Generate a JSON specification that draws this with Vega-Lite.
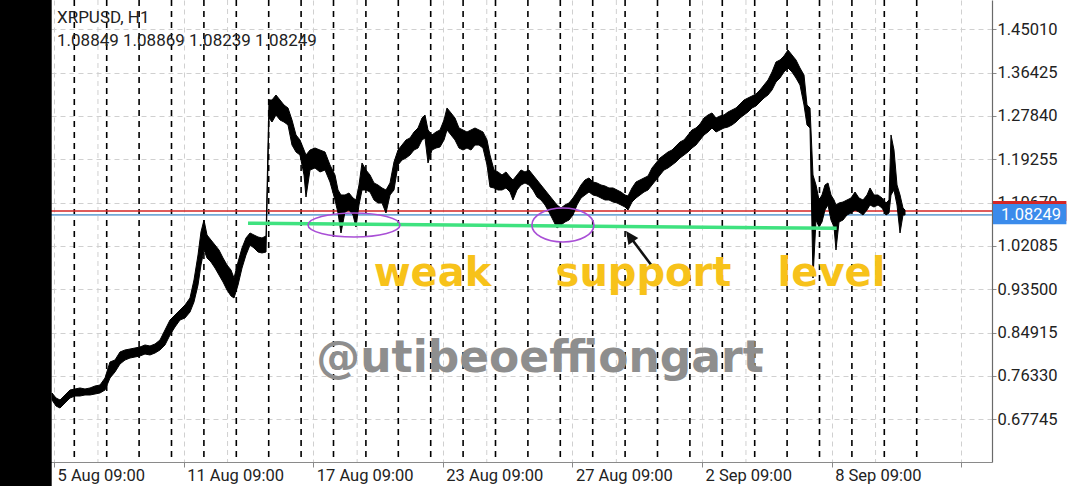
{
  "$schema": "https://vega.github.io/schema/vega-lite/v6.json",
  "width": 992,
  "height": 462,
  "autosize": {"type": "none"},
  "padding": {"left": 0, "top": 0, "right": 88, "bottom": 24},
  "background": "white",
  "config": {"view": {"stroke": null}},
  "datasets": {
    "px": [
      {"d":0.312,"p":0.7295,"p2":0.7156},{"d":0.435,"p":0.7196,"p2":0.7037},{"d":0.559,"p":0.7156,"p2":0.6997},{"d":0.713,"p":0.7255,"p2":0.7097},{"d":0.867,"p":0.7354,"p2":0.7196},{"d":1.022,"p":0.7374,"p2":0.7235},{"d":1.176,"p":0.7394,"p2":0.7235},{"d":1.330,"p":0.7374,"p2":0.7255},{"d":1.485,"p":0.7394,"p2":0.7255},{"d":1.639,"p":0.7433,"p2":0.7275},{"d":1.793,"p":0.7453,"p2":0.7295},{"d":1.948,"p":0.7592,"p2":0.7354},{"d":2.102,"p":0.7909,"p2":0.7592},{"d":2.256,"p":0.7948,"p2":0.7711},{"d":2.410,"p":0.8107,"p2":0.7869},{"d":2.565,"p":0.8147,"p2":0.7948},{"d":2.719,"p":0.8166,"p2":0.7988},{"d":2.873,"p":0.8186,"p2":0.8008},{"d":3.028,"p":0.8206,"p2":0.8028},{"d":3.182,"p":0.8246,"p2":0.8067},{"d":3.336,"p":0.8226,"p2":0.8048},{"d":3.491,"p":0.8265,"p2":0.8087},{"d":3.645,"p":0.8345,"p2":0.8147},{"d":3.799,"p":0.8543,"p2":0.8246},{"d":3.954,"p":0.8741,"p2":0.8444},{"d":4.108,"p":0.8840,"p2":0.8602},{"d":4.262,"p":0.8939,"p2":0.8741},{"d":4.417,"p":0.9038,"p2":0.8781},{"d":4.571,"p":0.9177,"p2":0.8899},{"d":4.694,"p":0.9534,"p2":0.9098},{"d":4.818,"p":1.0029,"p2":0.9434},{"d":4.910,"p":1.0485,"p2":0.9831},{"d":5.003,"p":1.0722,"p2":1.0128},{"d":5.096,"p":1.0425,"p2":0.9970},{"d":5.219,"p":1.0326,"p2":0.9890},{"d":5.343,"p":1.0227,"p2":0.9771},{"d":5.466,"p":1.0128,"p2":0.9633},{"d":5.590,"p":0.9970,"p2":0.9494},{"d":5.713,"p":0.9831,"p2":0.9335},{"d":5.836,"p":0.9732,"p2":0.9217},{"d":5.929,"p":0.9573,"p2":0.9177},{"d":6.053,"p":0.9890,"p2":0.9434},{"d":6.176,"p":1.0168,"p2":0.9771},{"d":6.299,"p":1.0366,"p2":1.0029},{"d":6.423,"p":1.0465,"p2":1.0227},{"d":6.546,"p":1.0425,"p2":1.0168},{"d":6.670,"p":1.0386,"p2":1.0088},{"d":6.793,"p":1.0366,"p2":1.0069},{"d":6.917,"p":1.0405,"p2":1.0088},
      {"d":7.009,"p":1.3100,"p2":1.2743},{"d":7.102,"p":1.3100,"p2":1.2664},{"d":7.225,"p":1.3199,"p2":1.2803},{"d":7.349,"p":1.3100,"p2":1.2704},{"d":7.472,"p":1.3001,"p2":1.2664},{"d":7.596,"p":1.2942,"p2":1.2605},{"d":7.719,"p":1.2704,"p2":1.2208},{"d":7.843,"p":1.2407,"p2":1.2070},{"d":7.966,"p":1.2308,"p2":1.2010},{"d":8.090,"p":1.2109,"p2":1.1614},{"d":8.151,"p":1.2010,"p2":1.1178},{"d":8.275,"p":1.2109,"p2":1.1713},{"d":8.429,"p":1.2149,"p2":1.1753},{"d":8.583,"p":1.2109,"p2":1.1674},{"d":8.738,"p":1.2070,"p2":1.1713},{"d":8.892,"p":1.1812,"p2":1.1475},{"d":9.046,"p":1.1614,"p2":1.1119},{"d":9.139,"p":1.1317,"p2":1.0861},{"d":9.231,"p":1.1218,"p2":1.0465},{"d":9.355,"p":1.1218,"p2":1.0881},{"d":9.478,"p":1.1257,"p2":1.0921},{"d":9.602,"p":1.1158,"p2":1.0822},{"d":9.694,"p":1.1119,"p2":1.0584},{"d":9.787,"p":1.1416,"p2":1.1020},{"d":9.880,"p":1.1852,"p2":1.1317},{"d":10.003,"p":1.1713,"p2":1.1317},{"d":10.127,"p":1.1614,"p2":1.1277},{"d":10.250,"p":1.1456,"p2":1.1119},{"d":10.373,"p":1.1416,"p2":1.1059},{"d":10.497,"p":1.1357,"p2":1.1059},{"d":10.620,"p":1.1317,"p2":1.0861},{"d":10.744,"p":1.1456,"p2":1.1218},{"d":10.867,"p":1.1872,"p2":1.1317},{"d":10.991,"p":1.2109,"p2":1.1812},{"d":11.114,"p":1.2208,"p2":1.1911},{"d":11.238,"p":1.2308,"p2":1.1951},{"d":11.361,"p":1.2347,"p2":1.2010},{"d":11.485,"p":1.2466,"p2":1.2109},{"d":11.608,"p":1.2545,"p2":1.2149},{"d":11.731,"p":1.2743,"p2":1.2308},{"d":11.824,"p":1.2803,"p2":1.2347},{"d":11.917,"p":1.2506,"p2":1.1852},{"d":12.040,"p":1.2407,"p2":1.2109},{"d":12.164,"p":1.2466,"p2":1.2149},{"d":12.287,"p":1.2506,"p2":1.2169},{"d":12.411,"p":1.2704,"p2":1.2308},{"d":12.503,"p":1.2942,"p2":1.2506},{"d":12.627,"p":1.2843,"p2":1.2407},{"d":12.750,"p":1.2743,"p2":1.2308},{"d":12.873,"p":1.2545,"p2":1.2149},{"d":12.997,"p":1.2506,"p2":1.2109},{"d":13.120,"p":1.2466,"p2":1.2149},{"d":13.244,"p":1.2506,"p2":1.2109},{"d":13.367,"p":1.2545,"p2":1.2208},{"d":13.491,"p":1.2506,"p2":1.2208},{"d":13.614,"p":1.2466,"p2":1.2149},{"d":13.738,"p":1.2308,"p2":1.1812},{"d":13.830,"p":1.2010,"p2":1.1376},{"d":13.954,"p":1.1713,"p2":1.1357},{"d":14.077,"p":1.1674,"p2":1.1317},{"d":14.201,"p":1.1614,"p2":1.1317},{"d":14.324,"p":1.1674,"p2":1.1357},{"d":14.448,"p":1.1575,"p2":1.1277},{"d":14.540,"p":1.1515,"p2":1.1119},{"d":14.664,"p":1.1614,"p2":1.1317},{"d":14.787,"p":1.1713,"p2":1.1416},{"d":14.910,"p":1.1674,"p2":1.1456},{"d":15.034,"p":1.1713,"p2":1.1416},{"d":15.157,"p":1.1614,"p2":1.1317},{"d":15.281,"p":1.1515,"p2":1.1178},{"d":15.404,"p":1.1416,"p2":1.1119},{"d":15.528,"p":1.1317,"p2":1.1020},{"d":15.651,"p":1.1218,"p2":1.0881},{"d":15.775,"p":1.1119,"p2":1.0722},{"d":15.898,"p":1.1020,"p2":1.0564},{"d":16.022,"p":1.0960,"p2":1.0623},{"d":16.145,"p":1.1020,"p2":1.0683},{"d":16.269,"p":1.1059,"p2":1.0722},{"d":16.392,"p":1.1158,"p2":1.0822},{"d":16.515,"p":1.1277,"p2":1.1020},{"d":16.639,"p":1.1416,"p2":1.1158},{"d":16.762,"p":1.1515,"p2":1.1218},{"d":16.886,"p":1.1555,"p2":1.1277},{"d":17.009,"p":1.1475,"p2":1.1218},{"d":17.133,"p":1.1456,"p2":1.1198},{"d":17.256,"p":1.1416,"p2":1.1158},{"d":17.380,"p":1.1396,"p2":1.1119},{"d":17.503,"p":1.1357,"p2":1.1119},{"d":17.627,"p":1.1357,"p2":1.1079},{"d":17.750,"p":1.1317,"p2":1.1059},{"d":17.873,"p":1.1277,"p2":1.1020},{"d":17.997,"p":1.1218,"p2":1.0980},{"d":18.090,"p":1.1198,"p2":1.0921},{"d":18.213,"p":1.1357,"p2":1.1079},{"d":18.336,"p":1.1475,"p2":1.1158},{"d":18.460,"p":1.1515,"p2":1.1218},{"d":18.583,"p":1.1555,"p2":1.1277},{"d":18.707,"p":1.1594,"p2":1.1317},{"d":18.830,"p":1.1753,"p2":1.1416},{"d":18.954,"p":1.1852,"p2":1.1515},{"d":19.077,"p":1.1951,"p2":1.1614},{"d":19.201,"p":1.2010,"p2":1.1713},{"d":19.324,"p":1.2070,"p2":1.1753},{"d":19.448,"p":1.2109,"p2":1.1812},{"d":19.571,"p":1.2189,"p2":1.1872},{"d":19.694,"p":1.2268,"p2":1.1951},{"d":19.818,"p":1.2308,"p2":1.2010},{"d":19.941,"p":1.2407,"p2":1.2070},{"d":20.065,"p":1.2506,"p2":1.2149},{"d":20.188,"p":1.2545,"p2":1.2208},{"d":20.312,"p":1.2625,"p2":1.2308},{"d":20.435,"p":1.2743,"p2":1.2407},{"d":20.559,"p":1.2803,"p2":1.2466},{"d":20.682,"p":1.2843,"p2":1.2545},{"d":20.806,"p":1.2743,"p2":1.2466},{"d":20.929,"p":1.2783,"p2":1.2506},{"d":21.052,"p":1.2803,"p2":1.2545},{"d":21.176,"p":1.2862,"p2":1.2565},{"d":21.299,"p":1.2902,"p2":1.2605},{"d":21.423,"p":1.2942,"p2":1.2664},{"d":21.546,"p":1.3021,"p2":1.2743},{"d":21.670,"p":1.3100,"p2":1.2803},{"d":21.793,"p":1.3140,"p2":1.2862},{"d":21.917,"p":1.3179,"p2":1.2942},{"d":22.040,"p":1.3219,"p2":1.2981},{"d":22.164,"p":1.3298,"p2":1.3061},{"d":22.287,"p":1.3397,"p2":1.3140},{"d":22.410,"p":1.3496,"p2":1.3199},{"d":22.534,"p":1.3655,"p2":1.3298},{"d":22.657,"p":1.3853,"p2":1.3457},{"d":22.781,"p":1.3893,"p2":1.3536},{"d":22.904,"p":1.3972,"p2":1.3655},{"d":23.028,"p":1.4091,"p2":1.3734},{"d":23.151,"p":1.3992,"p2":1.3655},{"d":23.275,"p":1.3893,"p2":1.3536},{"d":23.398,"p":1.3734,"p2":1.3397},{"d":23.522,"p":1.3595,"p2":1.3001},{"d":23.614,"p":1.3001,"p2":1.2605},{"d":23.707,"p":1.2942,"p2":1.2545},{"d":23.799,"p":1.1614,"p2":0.9573},{"d":23.892,"p":1.1416,"p2":1.0722},{"d":23.985,"p":1.1119,"p2":1.0584},{"d":24.077,"p":1.1218,"p2":1.0683},{"d":24.170,"p":1.1416,"p2":1.0921},{"d":24.262,"p":1.1456,"p2":1.1020},{"d":24.355,"p":1.1218,"p2":1.0722},{"d":24.448,"p":1.1119,"p2":1.0584},{"d":24.509,"p":1.1020,"p2":1.0128},{"d":24.602,"p":1.1059,"p2":1.0683},{"d":24.725,"p":1.1079,"p2":1.0722},{"d":24.849,"p":1.1119,"p2":1.0822},{"d":24.972,"p":1.1158,"p2":1.0861},{"d":25.096,"p":1.1277,"p2":1.0921},{"d":25.219,"p":1.1158,"p2":1.0881},{"d":25.343,"p":1.1119,"p2":1.0822},{"d":25.466,"p":1.1218,"p2":1.0921},{"d":25.559,"p":1.1357,"p2":1.1020},{"d":25.682,"p":1.1218,"p2":1.0980},{"d":25.806,"p":1.1218,"p2":1.1020},{"d":25.929,"p":1.1158,"p2":1.0960},{"d":26.052,"p":1.1059,"p2":1.0822},{"d":26.145,"p":1.1119,"p2":1.0861},{"d":26.207,"p":1.2407,"p2":1.1218},{"d":26.299,"p":1.2109,"p2":1.1317},{"d":26.392,"p":1.1416,"p2":1.1020},{"d":26.485,"p":1.1218,"p2":1.0465},{"d":26.577,"p":1.0960,"p2":1.0822},{"d":26.639,"p":1.0921,"p2":1.0822}
    ]
  },
  "layer": [
    {
      "data": {"values": [{"d":1.73},{"d":5.73},{"d":9.73},{"d":13.73},{"d":17.73},{"d":21.73},{"d":25.73}]},
      "mark": {"type": "rule", "color": "#d0d0d0", "strokeDash": [5, 4], "strokeWidth": 1},
      "encoding": {"x": {"field": "d", "type": "quantitative", "scale": {"domain": [-1.2932, 29.324], "nice": false, "zero": false}}}
    },
    {
      "data": {"values": [{"d":1},{"d":2},{"d":3},{"d":4},{"d":5},{"d":6},{"d":7},{"d":8},{"d":9},{"d":10},{"d":11},{"d":12},{"d":13},{"d":14},{"d":15},{"d":16},{"d":17},{"d":18},{"d":19},{"d":20},{"d":21},{"d":22},{"d":23},{"d":24},{"d":25},{"d":26},{"d":27}]},
      "mark": {"type": "rule", "color": "#000000", "strokeDash": [6, 5], "strokeWidth": 1.6},
      "encoding": {"x": {"field": "d", "type": "quantitative", "scale": {"domain": [-1.2932, 29.324], "nice": false, "zero": false}}}
    },
    {
      "data": {"values": [{"p": 1.0901}]},
      "mark": {"type": "rule", "color": "#d42626", "strokeWidth": 1.6},
      "encoding": {"y": {"field": "p", "type": "quantitative", "scale": {"domain": [0.59274, 1.50815], "nice": false, "zero": false}}}
    },
    {
      "data": {"values": [{"p": 1.08249}]},
      "mark": {"type": "rule", "color": "#74a9d6", "strokeWidth": 1.6},
      "encoding": {"y": {"field": "p", "type": "quantitative", "scale": {"domain": [0.59274, 1.50815], "nice": false, "zero": false}}}
    },
    {
      "data": {"name": "px"},
      "mark": {"type": "area", "color": "#000000", "stroke": "#000000", "strokeWidth": 1, "interpolate": "linear"},
      "encoding": {
        "x": {
          "field": "d", "type": "quantitative",
          "scale": {"domain": [-1.2932, 29.324], "nice": false, "zero": false},
          "axis": {
            "orient": "bottom", "title": null,
            "values": [0.375, 4.375, 8.375, 12.375, 16.375, 20.375, 24.375, 28.375],
            "labelExpr": "datum.value < 1 ? '5 Aug 09:00' : datum.value < 5 ? '11 Aug 09:00' : datum.value < 9 ? '17 Aug 09:00' : datum.value < 13 ? '23 Aug 09:00' : datum.value < 17 ? '27 Aug 09:00' : datum.value < 21 ? '2 Sep 09:00' : datum.value < 25 ? '8 Sep 09:00' : ''",
            "grid": true, "gridColor": "#d0d0d0", "gridDash": [5, 4], "gridWidth": 1,
            "domainColor": "#8a8a8a", "domainWidth": 1.2,
            "tickColor": "#8a8a8a", "tickSize": 5, "tickWidth": 1,
            "labelAlign": "left", "labelOffset": 3, "labelPadding": 0,
            "labelFont": "Roboto", "labelFontSize": 16.5, "labelColor": "#222222",
            "labelFlush": false, "labelOverlap": false, "labelBound": false
          }
        },
        "y": {
          "field": "p", "type": "quantitative",
          "scale": {"domain": [0.59274, 1.50815], "nice": false, "zero": false},
          "axis": {
            "orient": "right", "title": null,
            "values": [0.67745, 0.7633, 0.84915, 0.935, 1.02085, 1.1067, 1.19255, 1.2784, 1.36425, 1.4501],
            "format": ".5f",
            "grid": true, "gridColor": "#d0d0d0", "gridDash": [5, 4], "gridWidth": 1,
            "domainColor": "#6a6a6a", "domainWidth": 1.2,
            "tickColor": "#8a8a8a", "tickSize": 4, "tickWidth": 1,
            "labelPadding": 1, "labelAlign": "left", "labelBaseline": "middle",
            "labelFont": "Roboto", "labelFontSize": 16.5, "labelColor": "#222222",
            "labelOverlap": false, "labelFlush": false, "labelBound": false
          }
        },
        "y2": {"field": "p2"}
      }
    },
    {
      "data": {"values": [{"d": 6.361, "p": 1.0657, "d2": 24.531, "p2": 1.0558}]},
      "mark": {"type": "rule", "color": "#3fe27f", "strokeWidth": 3.5},
      "encoding": {
        "x": {"field": "d", "type": "quantitative", "scale": {"domain": [-1.2932, 29.324], "nice": false, "zero": false}},
        "y": {"field": "p", "type": "quantitative", "scale": {"domain": [0.59274, 1.50815], "nice": false, "zero": false}},
        "x2": {"field": "d2"}, "y2": {"field": "p2"}
      }
    },
    {
      "data": {"values": [{"d": 9.633, "p": 1.0623}]},
      "mark": {"type": "point", "shape": "M -1 0 A 1 0.26 0 1 0 1 0 A 1 0.26 0 1 0 -1 0 Z", "size": 8464, "filled": false, "stroke": "#a94fd6", "strokeWidth": 1.6, "opacity": 1},
      "encoding": {
        "x": {"field": "d", "type": "quantitative", "scale": {"domain": [-1.2932, 29.324], "nice": false, "zero": false}},
        "y": {"field": "p", "type": "quantitative", "scale": {"domain": [0.59274, 1.50815], "nice": false, "zero": false}}
      }
    },
    {
      "data": {"values": [{"d": 16.08, "p": 1.0623}]},
      "mark": {"type": "point", "shape": "M -1 0 A 1 0.55 0 1 0 1 0 A 1 0.55 0 1 0 -1 0 Z", "size": 3844, "filled": false, "stroke": "#a94fd6", "strokeWidth": 1.6, "opacity": 1},
      "encoding": {
        "x": {"field": "d", "type": "quantitative", "scale": {"domain": [-1.2932, 29.324], "nice": false, "zero": false}},
        "y": {"field": "p", "type": "quantitative", "scale": {"domain": [0.59274, 1.50815], "nice": false, "zero": false}}
      }
    },
    {
      "data": {"values": [{"d": 18.83, "p": 0.9811, "d2": 18.17, "p2": 1.0374}]},
      "mark": {"type": "rule", "color": "#111111", "strokeWidth": 2.6},
      "encoding": {
        "x": {"field": "d", "type": "quantitative", "scale": {"domain": [-1.2932, 29.324], "nice": false, "zero": false}},
        "y": {"field": "p", "type": "quantitative", "scale": {"domain": [0.59274, 1.50815], "nice": false, "zero": false}},
        "x2": {"field": "d2"}, "y2": {"field": "p2"}
      }
    },
    {
      "data": {"values": [{"d": 18.17, "p": 1.0374}]},
      "mark": {"type": "point", "shape": "M 0 -1 L 0.75 0.6 L -0.75 0.6 Z", "size": 256, "angle": 325, "filled": true, "color": "#111111", "opacity": 1},
      "encoding": {
        "x": {"field": "d", "type": "quantitative", "scale": {"domain": [-1.2932, 29.324], "nice": false, "zero": false}},
        "y": {"field": "p", "type": "quantitative", "scale": {"domain": [0.59274, 1.50815], "nice": false, "zero": false}}
      }
    },
    {
      "data": {"values": [{"d": 12.056, "p": 0.9415, "t": "weak"}, {"d": 18.568, "p": 0.9415, "t": "support"}, {"d": 24.37, "p": 0.9415, "t": "level"}]},
      "mark": {"type": "text", "font": "DejaVu Sans", "fontWeight": "bold", "fontSize": 40, "color": "#f7c21a", "align": "center", "baseline": "alphabetic"},
      "encoding": {
        "x": {"field": "d", "type": "quantitative", "scale": {"domain": [-1.2932, 29.324], "nice": false, "zero": false}},
        "y": {"field": "p", "type": "quantitative", "scale": {"domain": [0.59274, 1.50815], "nice": false, "zero": false}},
        "text": {"field": "t"}
      }
    },
    {
      "data": {"values": [{"d": 15.373, "p": 0.77107, "t": "@utibeoeffiongart"}]},
      "mark": {"type": "text", "font": "DejaVu Sans", "fontWeight": "bold", "fontSize": 44, "color": "#8e8e8e", "align": "center", "baseline": "alphabetic"},
      "encoding": {
        "x": {"field": "d", "type": "quantitative", "scale": {"domain": [-1.2932, 29.324], "nice": false, "zero": false}},
        "y": {"field": "p", "type": "quantitative", "scale": {"domain": [0.59274, 1.50815], "nice": false, "zero": false}},
        "text": {"field": "t"}
      }
    },
    {
      "data": {"values": [{"d": 0.466, "p": 1.4716, "t": "XRPUSD, H1"}, {"d": 0.466, "p": 1.4279, "t": "1.08849 1.08869 1.08239 1.08249"}]},
      "mark": {"type": "text", "font": "Roboto", "fontSize": 17, "color": "#222222", "align": "left", "baseline": "middle"},
      "encoding": {
        "x": {"field": "d", "type": "quantitative", "scale": {"domain": [-1.2932, 29.324], "nice": false, "zero": false}},
        "y": {"field": "p", "type": "quantitative", "scale": {"domain": [0.59274, 1.50815], "nice": false, "zero": false}},
        "text": {"field": "t"}
      }
    },
    {
      "data": {"values": [{"d": 29.355, "d2": 31.62, "p": 1.1099, "p2": 1.0703}]},
      "mark": {"type": "rect", "color": "#d42626"},
      "encoding": {
        "x": {"field": "d", "type": "quantitative", "scale": {"domain": [-1.2932, 29.324], "nice": false, "zero": false}},
        "y": {"field": "p", "type": "quantitative", "scale": {"domain": [0.59274, 1.50815], "nice": false, "zero": false}},
        "x2": {"field": "d2"}, "y2": {"field": "p2"}
      }
    },
    {
      "data": {"values": [{"d": 29.355, "d2": 31.62, "p": 1.1039, "p2": 1.0638}]},
      "mark": {"type": "rect", "color": "#3b8beb"},
      "encoding": {
        "x": {"field": "d", "type": "quantitative", "scale": {"domain": [-1.2932, 29.324], "nice": false, "zero": false}},
        "y": {"field": "p", "type": "quantitative", "scale": {"domain": [0.59274, 1.50815], "nice": false, "zero": false}},
        "x2": {"field": "d2"}, "y2": {"field": "p2"}
      }
    },
    {
      "data": {"values": [{"d": 30.528, "p": 1.08249, "t": "1.08249"}]},
      "mark": {"type": "text", "font": "Roboto", "fontSize": 16.5, "color": "#ffffff", "align": "center", "baseline": "middle"},
      "encoding": {
        "x": {"field": "d", "type": "quantitative", "scale": {"domain": [-1.2932, 29.324], "nice": false, "zero": false}},
        "y": {"field": "p", "type": "quantitative", "scale": {"domain": [0.59274, 1.50815], "nice": false, "zero": false}},
        "text": {"field": "t"}
      }
    },
    {
      "data": {"values": [{"d": -1.6, "d2": 0.3025, "p": 1.53, "p2": 0.53}]},
      "mark": {"type": "rect", "color": "#000000"},
      "encoding": {
        "x": {"field": "d", "type": "quantitative", "scale": {"domain": [-1.2932, 29.324], "nice": false, "zero": false}},
        "y": {"field": "p", "type": "quantitative", "scale": {"domain": [0.59274, 1.50815], "nice": false, "zero": false}},
        "x2": {"field": "d2"}, "y2": {"field": "p2"}
      }
    }
  ]
}
